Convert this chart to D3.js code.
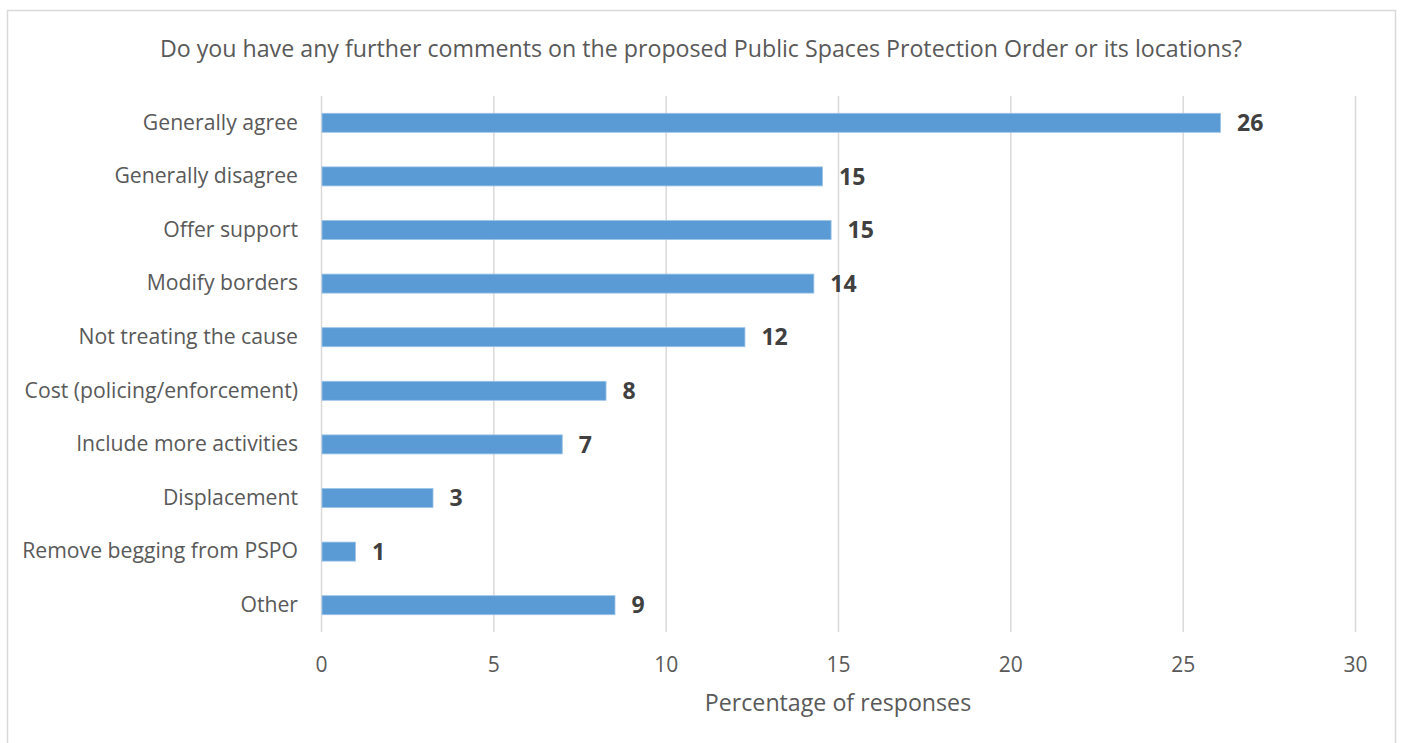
<!DOCTYPE html>
<html><head><meta charset="utf-8">
<script src="https://cdn.jsdelivr.net/npm/d3@7"></script>
<style>body{margin:0;background:#fff;} svg{display:block;}</style>
</head><body>
<svg id="c" width="1402" height="743"></svg>
<script>
const categories = ["Generally agree","Generally disagree","Offer support","Modify borders","Not treating the cause","Cost (policing/enforcement)","Include more activities","Displacement","Remove begging from PSPO","Other"];
const values = [26.1, 14.55, 14.8, 14.3, 12.3, 8.27, 7.0, 3.25, 1.0, 8.53];
const valueLabels = ["26","15","15","14","12","8","7","3","1","9"];
const xTicks = [0,5,10,15,20,25,30];
const title = "Do you have any further comments on the proposed Public Spaces Protection Order or its locations?";
const xTitle = "Percentage of responses";

const font = "'Open Sans', sans-serif";
const svg = d3.select("#c");
svg.append("rect").attr("x",7.5).attr("y",10.5).attr("width",1388).attr("height",740)
  .attr("fill","#fff").attr("stroke","#d9d9d9").attr("stroke-width",1.5);

const x = d3.scaleLinear().domain([0,30]).range([321,1355]);
const y = d3.scaleBand().domain(categories).range([96,632]).paddingInner(0.645).paddingOuter(0.3225);

svg.append("text").attr("x",701).attr("y",57).attr("text-anchor","middle")
  .attr("font-family",font).attr("font-size",23.2).attr("fill","#595959").text(title);

const gx = svg.append("g").attr("transform","translate(0,632)")
  .call(d3.axisBottom(x).tickValues(xTicks).tickSize(536).tickPadding(0).tickFormat(d3.format("d")));
gx.select(".domain").remove();
gx.selectAll(".tick line").attr("y1",0).attr("y2",-536).attr("stroke","#d9d9d9").attr("stroke-width",1.5);
gx.selectAll(".tick text").attr("y",40).attr("dy",0).attr("font-family",font).attr("font-size",21).attr("fill","#595959");

svg.append("g").selectAll("rect").data(values).join("rect")
  .attr("x",x(0)+1).attr("y",(d,i)=>y(categories[i]))
  .attr("width",d=>x(d)-x(0)-1).attr("height",y.bandwidth())
  .attr("fill","#5b9bd5").attr("stroke","#9dc3e6").attr("stroke-width",0.8);

const gy = svg.append("g").attr("transform","translate(321,0)")
  .call(d3.axisLeft(y).tickSize(0).tickPadding(23));
gy.select(".domain").remove();
gy.selectAll(".tick text").attr("font-family",font).attr("font-size",21.2).attr("fill","#595959");

svg.append("g").selectAll("text").data(values).join("text")
  .attr("x",d=>x(d)+16.5).attr("y",(d,i)=>y(categories[i])+y.bandwidth()/2).attr("dy","0.36em")
  .attr("font-family",font).attr("font-weight","bold").attr("font-size",23).attr("fill","#404040")
  .text((d,i)=>valueLabels[i]);

svg.append("text").attr("x",838).attr("y",711).attr("text-anchor","middle")
  .attr("font-family",font).attr("font-size",23.2).attr("fill","#595959").text(xTitle);
</script>
</body></html>
